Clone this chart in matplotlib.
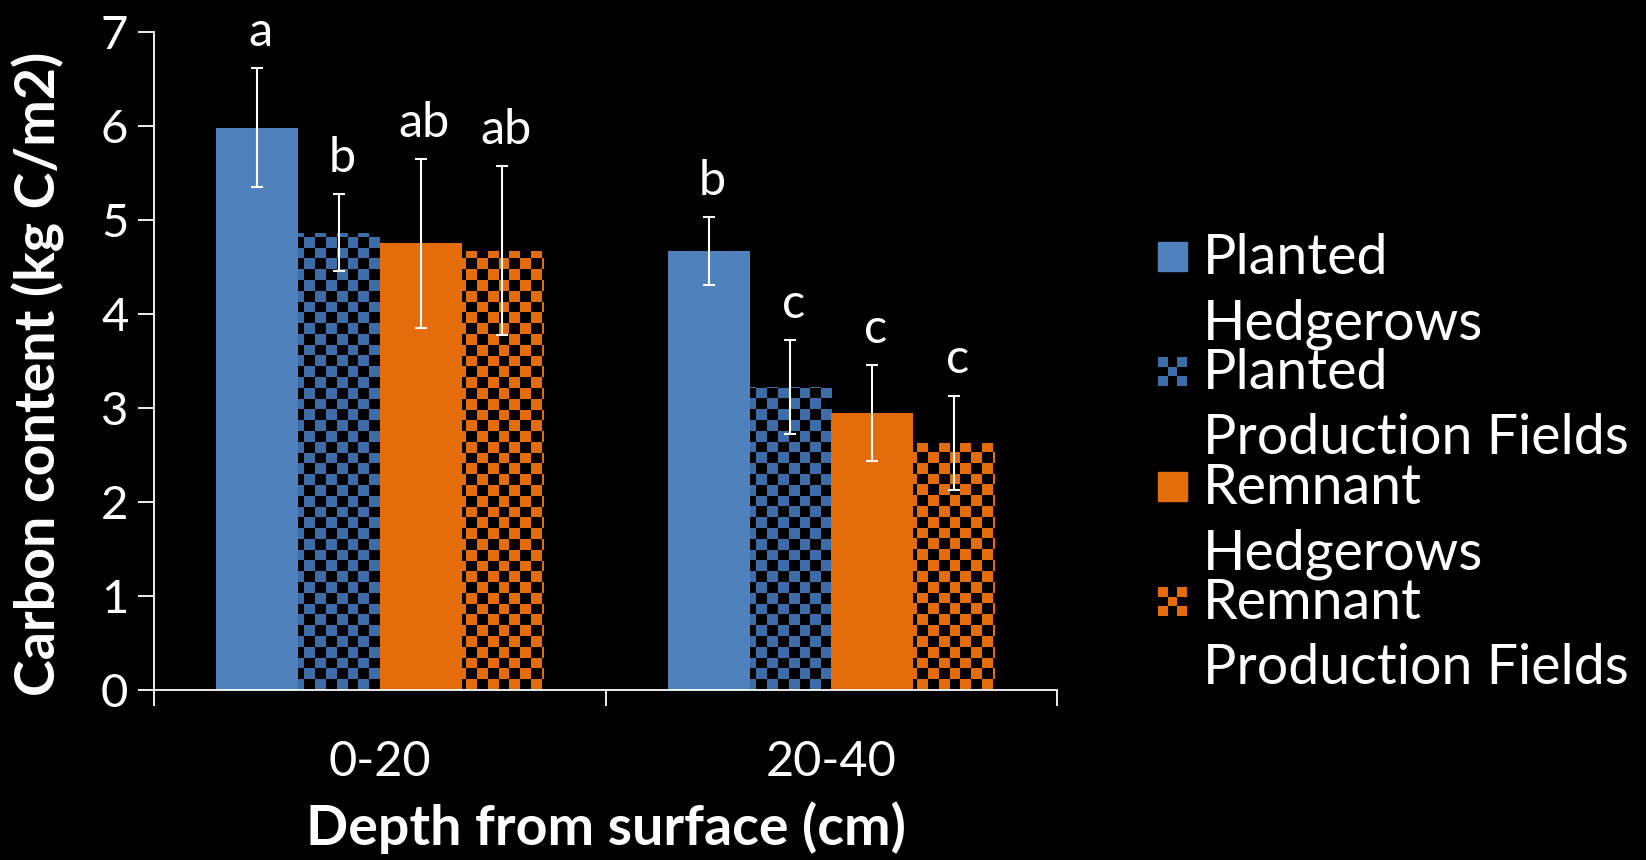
import numpy as np
import matplotlib.pyplot as plt
from matplotlib.patches import Rectangle
from matplotlib.colors import ListedColormap

plt.rcParams['font.family'] = ['Lato', 'DejaVu Sans']

# values
depths = ["0-20", "20-40"]
series_names = ["Planted\nHedgerows", "Planted\nProduction Fields",
                "Remnant\nHedgerows", "Remnant\nProduction Fields"]
planted_hedge = [5.98, 4.67]
planted_field = [4.86, 3.22]
remnant_hedge = [4.75, 2.94]
remnant_field = [4.67, 2.63]
planted_hedge_err = [0.63, 0.36]
planted_field_err = [0.41, 0.50]
remnant_hedge_err = [0.90, 0.51]
remnant_field_err = [0.90, 0.50]
letters_ph = ["a", "b"]
letters_pf = ["b", "c"]
letters_rh = ["ab", "c"]
letters_rf = ["ab", "c"]

blue = '#4F81BD'
orange = '#E46C0A'
blue_chk = '#3D6DA8'
orange_chk = '#E46C0A'

values = [planted_hedge, planted_field, remnant_hedge, remnant_field]
errors = [planted_hedge_err, planted_field_err, remnant_hedge_err, remnant_field_err]
letters = [letters_ph, letters_pf, letters_rh, letters_rf]
colors = [blue, blue_chk, orange, orange_chk]
checkered = [False, True, False, True]

fig = plt.figure(figsize=(16.46, 8.6), dpi=100, facecolor='black')
ax = fig.add_axes([0.0936, 0.198, 0.5486, 0.765])
ax.set_facecolor('black')

x = np.arange(len(depths))
w = 0.181
offsets = [-1.5, -0.5, 0.5, 1.5]

# checkerboard texture (about 10.7 px cells)
ny, nx = 61, 84
checker = np.add.outer(np.arange(ny), np.arange(nx)) % 2

for i in range(4):
    xs = x + offsets[i] * w
    if checkered[i]:
        bars = ax.bar(xs, values[i], w, color='black', linewidth=0, zorder=1)
        for b in bars:
            im = ax.imshow(checker, cmap=ListedColormap(['black', colors[i]]),
                           extent=(-0.5, 1.5, 0, 7), aspect='auto',
                           interpolation='nearest', zorder=2)
            im.set_clip_path(b)
    else:
        ax.bar(xs, values[i], w, color=colors[i], linewidth=0, zorder=2)
    ax.errorbar(xs, values[i], yerr=errors[i], fmt='none', ecolor='white',
                elinewidth=1.5, capsize=4.5, capthick=1.5, zorder=3)
    for j in range(len(depths)):
        ax.text(xs[j] + 0.008, values[i][j] + errors[i][j] + 0.15, letters[i][j],
                ha='center', va='bottom', color='white', fontsize=35)

ax.set_xlim(-0.5, 1.5)
ax.set_ylim(0, 7)

for s in ['top', 'right']:
    ax.spines[s].set_visible(False)
for s in ['left', 'bottom']:
    ax.spines[s].set_color('white')
    ax.spines[s].set_linewidth(1.3)

ax.set_yticks(range(8))
ax.tick_params(axis='y', colors='white', direction='out', length=11.5,
               width=1.3, labelsize=34, pad=7)
ax.set_xticks(x)
ax.set_xticklabels(depths)
ax.set_xticks([-0.5, 0.5, 1.5], minor=True)
ax.tick_params(axis='x', which='major', length=0, colors='white',
               labelsize=35, pad=36)
ax.tick_params(axis='x', which='minor', length=11.5, width=1.3, colors='white')

ax.set_ylabel("Carbon content (kg C/m2)", color='white', fontsize=40,
              fontweight='bold', va='center')
ax.yaxis.set_label_coords(-0.128, 0.48)
ax.set_xlabel("Depth from surface (cm)", color='white', fontsize=40,
              fontweight='bold', va='center')
ax.xaxis.set_label_coords(0.5, -0.21)

# legend drawn by hand so the key sits on the first line of each label
lax = fig.add_axes([0, 0, 1, 1])
lax.set_xlim(0, 1646)
lax.set_ylim(860, 0)
lax.axis('off')
small = np.add.outer(np.arange(3), np.arange(3)) % 2
for i in range(4):
    top = 242 + 115 * i
    if checkered[i]:
        lax.imshow(1 - small, cmap=ListedColormap(['black', colors[i]]),
                   extent=(1158, 1187, top + 29, top), interpolation='nearest',
                   aspect='auto')
    else:
        lax.add_patch(Rectangle((1158, top), 29, 29, color=colors[i]))
    lines = series_names[i].split("\n")
    for k in range(len(lines)):
        lax.text(1203, top + 32 + 65 * k, lines[k], color='white', fontsize=40,
                 va='baseline', ha='left')
lax.set_xlim(0, 1646)
lax.set_ylim(860, 0)

fig.savefig("out.png", dpi=100, facecolor='black')
